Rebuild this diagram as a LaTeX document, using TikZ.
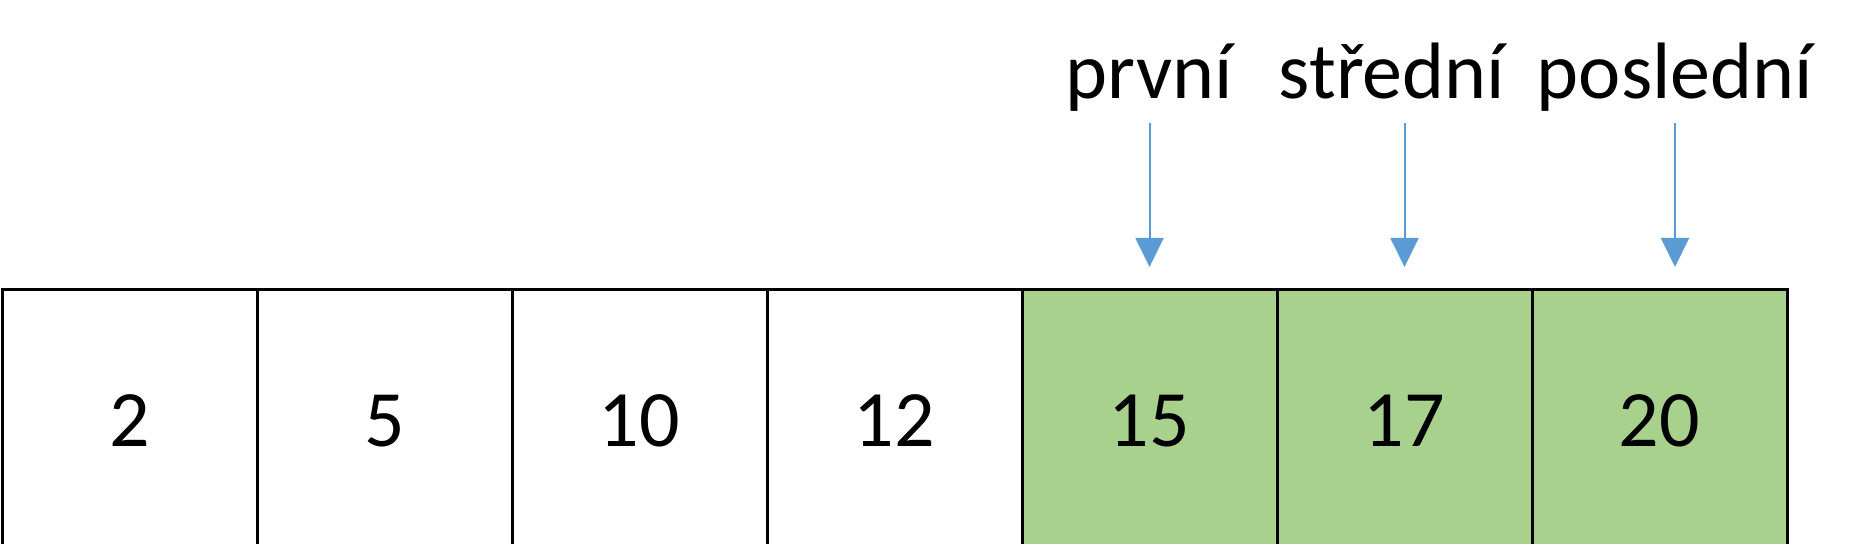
\documentclass[tikz,border=0pt]{standalone}
\usepackage{fontspec}
\setmainfont{Carlito}
\usetikzlibrary{arrows.meta,positioning}
\definecolor{cellgreen}{HTML}{A9D18E}
\definecolor{ptrblue}{HTML}{5B9BD5}

\begin{document}
\begin{tikzpicture}[x=0.5pt,y=0.5pt,
  cell/.style={draw,line width=1.5pt,minimum width=127.5pt,minimum height=131pt,
    inner sep=0pt,outer sep=0pt},
  found/.style={cell,fill=cellgreen},
  lbl/.style={anchor=base,inner sep=0pt},
  ptr/.style={-{Triangle[width=14pt,length=14.5pt]},line width=1pt,ptrblue,
    shorten <=12pt,shorten >=11.5pt}]
  \fontsize{40}{48}\selectfont
  \useasboundingbox (0,0) rectangle (1876,544);
  \clip (0,0) rectangle (1876,544);
  % sorted array, the part still searched in green
  \node[cell] (c1) at (129.5,123) {2};
  \node[cell,right=0pt of c1] (c2) {5};
  \node[cell,right=0pt of c2] (c3) {10};
  \node[cell,right=0pt of c3] (c4) {12};
  \node[found,right=0pt of c4] (c5) {15};
  \node[found,right=0pt of c5] (c6) {17};
  \node[found,right=0pt of c6] (c7) {20};
  % pointer names
  \node[lbl] (first) at (1149,445) {první};
  \node[lbl] (mid)   at (1392,445) {střední};
  \node[lbl] (last)  at (1675,445) {poslední};
  % pointers into the array
  \draw[ptr] (c5.north |- first.base) -- (c5.north);
  \draw[ptr] (c6.north |- mid.base) -- (c6.north);
  \draw[ptr] (last.base) -- (last.base |- c7.north);
\end{tikzpicture}
\end{document}
